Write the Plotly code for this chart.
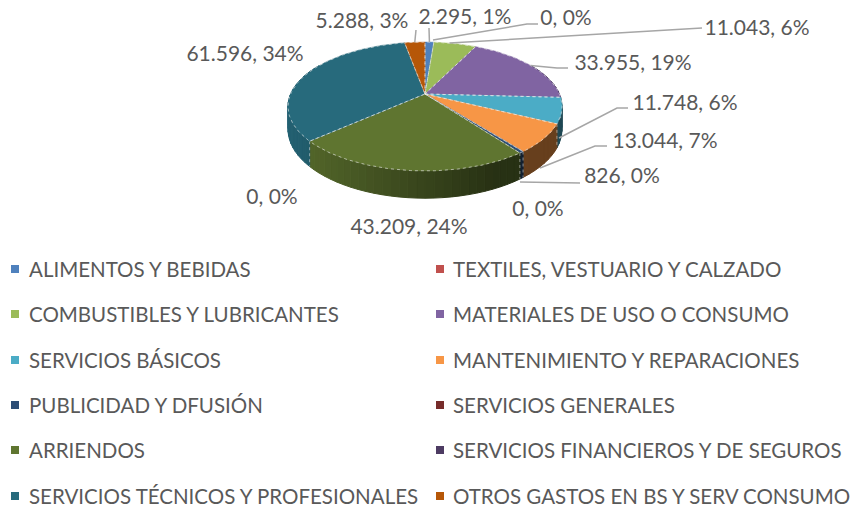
import math
import plotly.graph_objects as go

categories = ["ALIMENTOS Y BEBIDAS", "TEXTILES, VESTUARIO Y CALZADO", "COMBUSTIBLES Y LUBRICANTES",
              "MATERIALES DE USO O CONSUMO", "SERVICIOS BÁSICOS", "MANTENIMIENTO Y REPARACIONES",
              "PUBLICIDAD Y DFUSIÓN", "SERVICIOS GENERALES", "ARRIENDOS",
              "SERVICIOS FINANCIEROS Y DE SEGUROS", "SERVICIOS TÉCNICOS Y PROFESIONALES",
              "OTROS GASTOS EN BS Y SERV CONSUMO"]
values = [2295, 0, 11043, 33955, 11748, 13044, 826, 0, 43209, 0, 61596, 5288]
value_labels = ["2.295", "0", "11.043", "33.955", "11.748", "13.044", "826", "0", "43.209", "0", "61.596", "5.288"]
percents = [1, 0, 6, 19, 6, 7, 0, 0, 24, 0, 34, 3]
colors = ["#4F81BD", "#C0504D", "#9BBB59", "#8064A2", "#4BACC6", "#F79646",
          "#2C4D75", "#772C2A", "#5F7530", "#4D3B62", "#276A7C", "#B65708"]

# layout of the drawing, in page pixels
CX, CY, RX, RY, K, DEPTH = 425, 94, 134.4, 62, 0.194, 22
FONT = "Lato"
LABEL_FS = 21
LEGEND_FS = 20.5
TEXT_DY = 3
TXT = "#595959"
LEADER = "#A6A6A6"
label_pos = [(465, 16), (566, 17), (757, 27), (633, 62), (685, 102), (665, 140),
             (622, 175), (538, 208), (409, 226), (272, 196), (245, 53), (362, 20)]
leaders = {0: [(429, 28)], 1: [(527, 24), (538, 24)], 2: [(702, 28)], 3: [(557, 68), (568, 68)],
           4: [(617, 108), (628, 108)], 5: [(595, 146), (607, 146)], 6: [(580, 183)], 11: [(416, 30)]}
legend_rows = [269, 314, 360, 405, 450, 496]
legend_cols = [(15, 29), (440, 453)]


def project(deg, r=1.0, drop=0.0):
    a = math.radians(deg)
    X, Y = r * math.sin(a), -r * math.cos(a)
    den = 1 - K * Y
    return CX + RX * X / den, CY + RY * Y / den + drop / den


def shade(hex_color, f):
    r, g, b = (int(hex_color[i:i + 2], 16) for i in (1, 3, 5))
    return f"rgb({int(r * f)},{int(g * f)},{int(b * f)})"


def arc(a0, a1, step=1.0, drop=0.0):
    n = max(1, int(abs(a1 - a0) / step))
    return [project(a0 + (a1 - a0) * i / n, drop=drop) for i in range(n + 1)]


total = sum(values)
bounds = [0.0]
for v in values:
    bounds.append(bounds[-1] + 360.0 * v / total)

fig = go.Figure()


def poly(points, fill, line=None, width=1, dash="solid", mode="lines", name=None):
    fig.add_trace(go.Scatter(
        x=[p[0] for p in points], y=[p[1] for p in points], mode=mode,
        fill="toself" if fill else None, fillcolor=fill,
        line=dict(color=line or fill, width=width, dash=dash),
        hoverinfo="skip", showlegend=False, name=name))


# outer wall, lower half, shaded left to right
for i, v in enumerate(values):
    a0, a1 = max(bounds[i], 60), min(bounds[i + 1], 300)
    if v == 0 or a1 <= a0:
        continue
    n = max(1, int((a1 - a0) / 3))
    for s in range(n):
        b0 = a0 + (a1 - a0) * s / n
        b1 = a0 + (a1 - a0) * (s + 1) / n
        top = arc(b0, b1, 1)
        bottom = arc(b1, b0, 1, drop=DEPTH)
        t = (top[0][0] - 288) / 274
        poly(top + bottom + [top[0]], shade(colors[i], max(0.42, 0.92 - 0.65 * t)), width=1)

# wall seams
for i, v in enumerate(values):
    if v and 90 < bounds[i] < 270:
        x0, y0 = project(bounds[i])
        x1, y1 = project(bounds[i], drop=DEPTH)
        poly([(x0, y0), (x1, y1)], None, line="rgba(225,225,225,0.55)", width=1, dash="dot")

# top face
for i, v in enumerate(values):
    if v == 0:
        continue
    pts = [(CX, CY)] + arc(bounds[i], bounds[i + 1]) + [(CX, CY)]
    poly(pts, colors[i], width=0.5)
for i, v in enumerate(values):
    if v == 0:
        continue
    pts = [(CX, CY)] + arc(bounds[i], bounds[i + 1]) + [(CX, CY)]
    poly(pts, None, line="rgba(235,235,235,0.6)", width=1, dash="dot")

# leader lines, starting on the rim of each slice
starts = {0: project((bounds[0] + bounds[1]) / 2),
          1: (433, 40),
          2: project(bounds[2] + 8),
          3: project((bounds[3] + bounds[4]) / 2),
          4: (559, 138), 5: (540, 168), 6: (520, 182),
          11: project((bounds[11] + bounds[12]) / 2)}
for i, rest in leaders.items():
    poly([starts[i]] + rest, None, line=LEADER, width=1.5)

# data labels
fig.add_trace(go.Scatter(
    x=[p[0] for p in label_pos], y=[p[1] + TEXT_DY for p in label_pos], mode="text",
    text=[f"{a}, {b}%" for a, b in zip(value_labels, percents)],
    textposition="middle center", textfont=dict(family=FONT, size=LABEL_FS, color=TXT),
    hoverinfo="skip", showlegend=False, cliponaxis=False))

# legend: two columns, filled row by row
for i, name in enumerate(categories):
    mx, tx = legend_cols[i % 2]
    y = legend_rows[i // 2]
    fig.add_trace(go.Scatter(
        x=[mx], y=[y], mode="markers", name=name,
        marker=dict(symbol="square", size=8, color=colors[i]),
        hoverinfo="name", showlegend=False))
    fig.add_trace(go.Scatter(
        x=[tx], y=[y + TEXT_DY], mode="text", text=[name], textposition="middle right",
        textfont=dict(family=FONT, size=LEGEND_FS, color=TXT),
        hoverinfo="skip", showlegend=False, cliponaxis=False))

fig.update_layout(
    width=858, height=508, margin=dict(l=0, r=0, t=0, b=0),
    paper_bgcolor="white", plot_bgcolor="white",
    xaxis=dict(range=[0, 858], visible=False, fixedrange=True),
    yaxis=dict(range=[508, 0], visible=False, fixedrange=True),
    showlegend=False)
# remove the default page margin so the figure fills the window exactly
fig.write_html("out.html", config={"displayModeBar": False},
               post_script="document.body.style.margin='0';document.body.style.overflow='hidden';")
